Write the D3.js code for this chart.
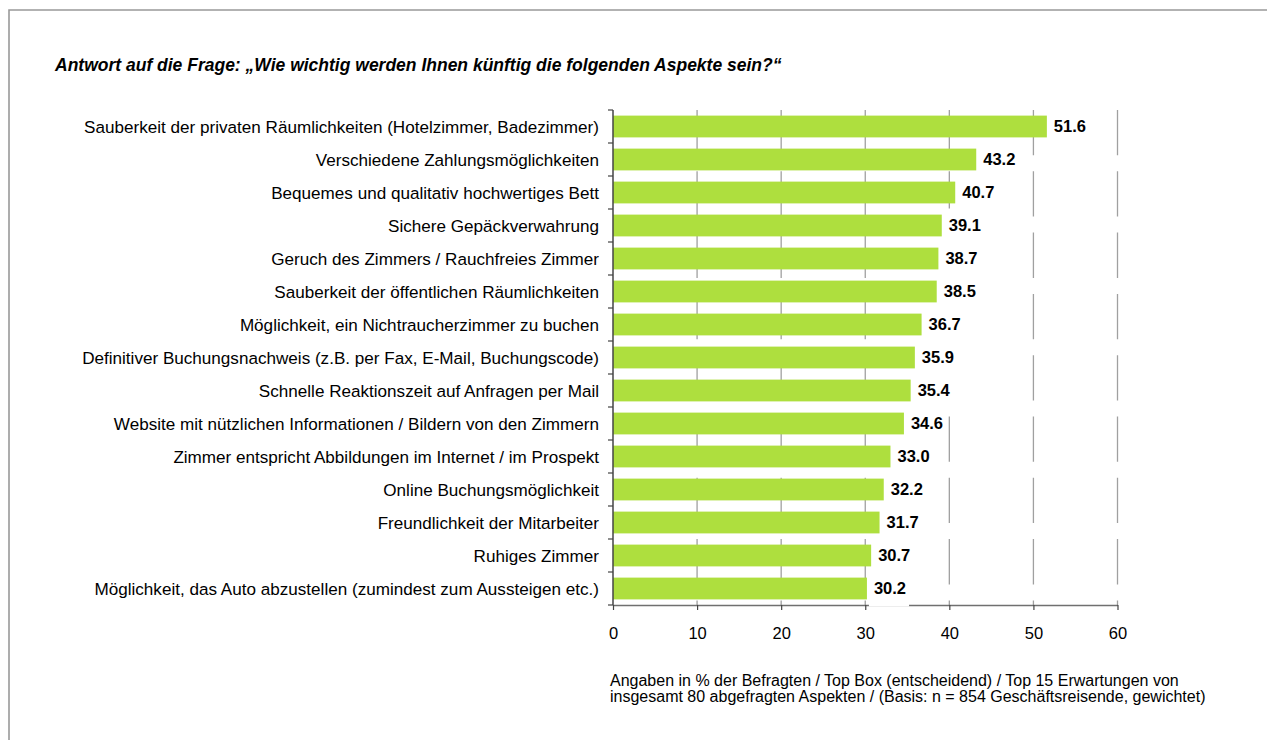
<!DOCTYPE html>
<html>
<head>
<meta charset="utf-8">
<script src="https://cdn.jsdelivr.net/npm/d3@7"></script>
<style>
  html, body { margin: 0; padding: 0; background: #fff; }
  svg { display: block; }
  text { font-family: "Liberation Sans", Arial, sans-serif; }
</style>
</head>
<body>
<svg id="chart" width="1267" height="740"></svg>
<script>
const title = "Antwort auf die Frage: „Wie wichtig werden Ihnen künftig die folgenden Aspekte sein?“";
const categories = [
  "Sauberkeit der privaten Räumlichkeiten (Hotelzimmer, Badezimmer)",
  "Verschiedene Zahlungsmöglichkeiten",
  "Bequemes und qualitativ hochwertiges Bett",
  "Sichere Gepäckverwahrung",
  "Geruch des Zimmers / Rauchfreies Zimmer",
  "Sauberkeit der öffentlichen Räumlichkeiten ",
  "Möglichkeit, ein Nichtraucherzimmer zu buchen",
  "Definitiver Buchungsnachweis (z.B. per Fax, E-Mail, Buchungscode)",
  "Schnelle Reaktionszeit auf Anfragen per Mail",
  "Website mit nützlichen Informationen / Bildern von den Zimmern",
  "Zimmer entspricht Abbildungen im Internet / im Prospekt",
  "Online Buchungsmöglichkeit",
  "Freundlichkeit der Mitarbeiter",
  "Ruhiges Zimmer",
  "Möglichkeit, das Auto abzustellen (zumindest zum Aussteigen etc.)"
];
const values = [51.6, 43.2, 40.7, 39.1, 38.7, 38.5, 36.7, 35.9, 35.4, 34.6, 33.0, 32.2, 31.7, 30.7, 30.2];
const xTicks = [0, 10, 20, 30, 40, 50, 60];
const footnote = [
  "Angaben in % der Befragten / Top Box (entscheidend) / Top 15 Erwartungen von",
  "insgesamt 80 abgefragten Aspekten / (Basis: n = 854 Geschäftsreisende, gewichtet)"
];

const svg = d3.select("#chart");

// frame
svg.append("path")
  .attr("d", "M9,740 L9,10 L1267,10")
  .attr("fill", "none").attr("stroke", "#999").attr("stroke-width", 1.6);

// title
svg.append("text")
  .attr("x", 55).attr("y", 71)
  .attr("font-size", 17.5).attr("font-weight", "bold").attr("font-style", "italic")
  .attr("fill", "#000")
  .text(title);

const x = d3.scaleLinear().domain([0, 60]).range([613, 1117.5]);
const y = d3.scaleBand().domain(categories).range([110, 605]).paddingInner(0.34).paddingOuter(0.17);
const step = y.step();
const half = step * 0.34 / 2;

// gridlines (dashed)
svg.append("g").selectAll("line")
  .data(xTicks.filter(d => d > 0))
  .join("line")
  .attr("x1", d => x(d)).attr("x2", d => x(d))
  .attr("y1", 110).attr("y2", 605)
  .attr("stroke", "#a0a0a0").attr("stroke-width", 1.3)
  .attr("stroke-dasharray", "45.3,16");

// x axis
const xAxis = d3.axisBottom(x).tickValues(xTicks).tickSize(5).tickPadding(17).tickSizeOuter(0);
const gx = svg.append("g").attr("transform", "translate(0,605)").call(xAxis);
gx.select(".domain").attr("stroke", "#707070").attr("stroke-width", 1.5);
gx.selectAll(".tick line").attr("stroke", "#444").attr("stroke-width", 1.2);
gx.selectAll(".tick text").attr("font-size", 16.5).attr("fill", "#000")
  .attr("font-family", "'Liberation Sans', Arial, sans-serif");

// value label backgrounds + labels
const labelG = svg.append("g");
const labels = labelG.selectAll("g.lab").data(values).join("g").attr("class", "lab");
labels.each(function(d, i) {
  const g = d3.select(this);
  const cx = x(d) + 7;
  const cy = y(categories[i]) + y.bandwidth() / 2;
  const bg = g.append("rect").attr("fill", "#fff");
  const t = g.append("text")
    .attr("x", cx).attr("y", cy).attr("dy", "0.36em")
    .attr("font-size", 16.5).attr("font-weight", "bold").attr("fill", "#000")
    .text(d3.format(".1f")(d));
  const w = t.node().getComputedTextLength();
  bg.attr("x", cx - 5).attr("y", cy - 17).attr("width", w + 8).attr("height", 35);
});

// bars
svg.append("g").selectAll("rect")
  .data(values)
  .join("rect")
  .attr("x", x(0))
  .attr("y", (d, i) => y(categories[i]))
  .attr("width", d => x(d) - x(0))
  .attr("height", y.bandwidth())
  .attr("fill", "#AEDF3E");

// y axis line and boundary ticks
const yg = svg.append("g");
yg.append("line")
  .attr("x1", x(0)).attr("x2", x(0))
  .attr("y1", 110).attr("y2", 605)
  .attr("stroke", "#444").attr("stroke-width", 1.5);
const bounds = categories.map(c => y(c) - half).concat([y(categories[categories.length - 1]) + y.bandwidth() + half]);
yg.selectAll("line.t").data(bounds).join("line").attr("class", "t")
  .attr("x1", x(0) - 5).attr("x2", x(0))
  .attr("y1", d => d).attr("y2", d => d)
  .attr("stroke", "#444").attr("stroke-width", 1.2);

// category labels
yg.selectAll("text.cat").data(categories).join("text").attr("class", "cat")
  .attr("x", x(0) - 14)
  .attr("y", d => y(d) + y.bandwidth() / 2)
  .attr("dy", "0.36em")
  .attr("text-anchor", "end")
  .attr("font-size", 17.1).attr("fill", "#000")
  .text(d => d);

// footnote
svg.append("g").selectAll("text").data(footnote).join("text")
  .attr("x", 610).attr("y", (d, i) => 686 + i * 16)
  .attr("font-size", 16).attr("fill", "#000")
  .text(d => d);
</script>
</body>
</html>
